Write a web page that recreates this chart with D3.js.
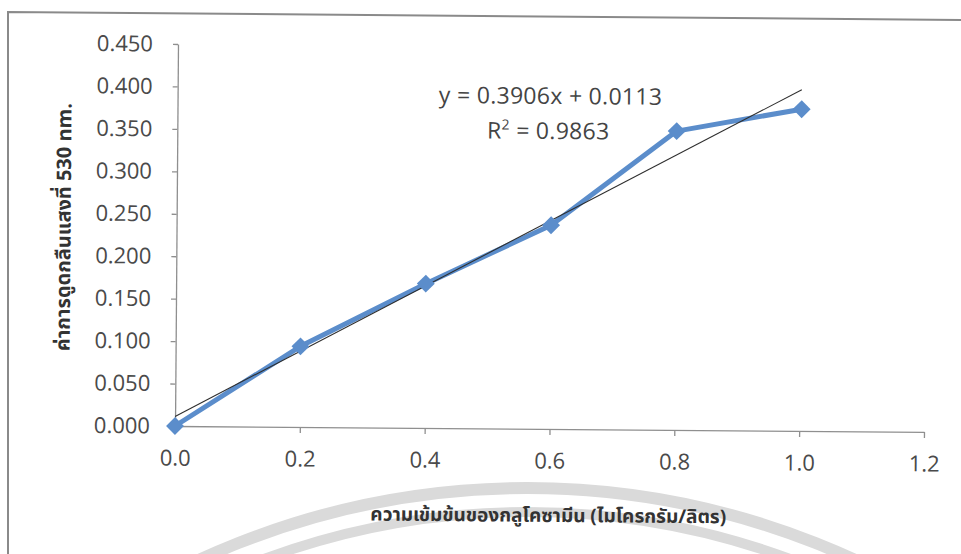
<!DOCTYPE html>
<html>
<head>
<meta charset="utf-8">
<script src="https://cdn.jsdelivr.net/npm/d3@7/dist/d3.min.js"></script>
<style>
  html, body { margin: 0; padding: 0; background: #fff; }
  svg { display: block; }
</style>
</head>
<body>
<svg id="chart" width="961" height="554"></svg>
<script>
// Glucosamine standard curve: absorbance at 530 nm vs concentration
const concentrations = [0.0, 0.2, 0.4, 0.6, 0.8, 1.0];
const absorbances = [0.000, 0.095, 0.170, 0.240, 0.352, 0.379];
const xTicks = [0.0, 0.2, 0.4, 0.6, 0.8, 1.0, 1.2];
const yTicks = [0.000, 0.050, 0.100, 0.150, 0.200, 0.250, 0.300, 0.350, 0.400, 0.450];
const trendSlope = 0.3906;
const trendIntercept = 0.0113;
const trendLabel = "y = 0.3906x + 0.0113";
const r2Value = "0.9863";
const xTitle = "ความเข้มข้นของกลูโคซามีน (ไมโครกรัม/ลิตร)";
const yTitle = "ค่าการดูดกลืนแสงที่ 530 nm.";

const svg = d3.select("#chart");

// faint circular stamp arcs near the bottom of the page
const stamp = svg.append("g").attr("fill", "none").attr("stroke", "#dadada");
stamp.append("circle").attr("cx", 527).attr("cy", 1272).attr("r", 784).attr("stroke-width", 12);
stamp.append("circle").attr("cx", 527).attr("cy", 1272).attr("r", 760).attr("stroke-width", 10);

// chart frame
svg.append("path")
  .attr("d", "M8,554 L8,12 L961,20")
  .attr("fill", "none")
  .attr("stroke", "#8a8a8a")
  .attr("stroke-width", 2);

const x0 = 175, y0 = 426;
const g = svg.append("g").attr("transform", `rotate(0.45, ${x0}, ${y0})`);

const x = d3.scaleLinear().domain([0, 1.2]).range([x0, 924]);
const y = d3.scaleLinear().domain([0, 0.45]).range([y0, 44]);

const tickFont = "'Open Sans', 'Liberation Sans', sans-serif";
const thaiFont = "'Noto Sans Thai', 'Noto Sans', 'DejaVu Sans', sans-serif";

// y axis
const yAxis = g.append("g")
  .attr("transform", `translate(${x0},0)`)
  .call(d3.axisLeft(y).tickValues(yTicks).tickFormat(d3.format(".3f")).tickSize(5).tickPadding(20).tickSizeOuter(0));
yAxis.select(".domain").attr("stroke", "#8f8f8f").attr("stroke-width", 1.3);
yAxis.selectAll(".tick line").attr("stroke", "#8f8f8f").attr("stroke-width", 1.3);
yAxis.selectAll(".tick text")
  .attr("fill", "#4a4a4a")
  .style("font-family", tickFont)
  .style("font-size", "22px");

// x axis
const xAxis = g.append("g")
  .attr("transform", `translate(0,${y0})`)
  .call(d3.axisBottom(x).tickValues(xTicks).tickFormat(d3.format(".1f")).tickSize(6).tickPadding(18).tickSizeOuter(0));
xAxis.select(".domain").attr("stroke", "#8f8f8f").attr("stroke-width", 1.3);
xAxis.selectAll(".tick line").attr("stroke", "#8f8f8f").attr("stroke-width", 1.3);
xAxis.selectAll(".tick text")
  .attr("fill", "#4a4a4a")
  .style("font-family", tickFont)
  .style("font-size", "22px");

// data series
const pts = concentrations.map((c, i) => ({ c, a: absorbances[i] }));
g.append("path")
  .datum(pts)
  .attr("fill", "none")
  .attr("stroke", "#5b8dcb")
  .attr("stroke-width", 5)
  .attr("stroke-linejoin", "round")
  .attr("d", d3.line().x(d => x(d.c)).y(d => y(d.a)));

// linear trendline
const trendX = [0, 1.0];
g.append("path")
  .datum(trendX)
  .attr("fill", "none")
  .attr("stroke", "#2e2e2e")
  .attr("stroke-width", 1.1)
  .attr("d", d3.line().x(d => x(d)).y(d => y(trendSlope * d + trendIntercept)));

// diamond markers
g.selectAll(".marker")
  .data(pts)
  .join("path")
  .attr("class", "marker")
  .attr("fill", "#5b8dcb")
  .attr("transform", d => `translate(${x(d.c)},${y(d.a)}) rotate(45)`)
  .attr("d", d3.symbol(d3.symbolSquare, 160)());

// equation label
g.append("text")
  .attr("x", 548).attr("y", 101)
  .attr("text-anchor", "middle")
  .attr("fill", "#444")
  .style("font-family", tickFont)
  .style("font-size", "23px")
  .style("letter-spacing", "0.3px")
  .text(trendLabel);
const r2 = g.append("text")
  .attr("x", 546).attr("y", 136)
  .attr("text-anchor", "middle")
  .attr("fill", "#444")
  .style("font-family", tickFont)
  .style("font-size", "23px")
  .style("letter-spacing", "0.3px");
r2.append("tspan").text("R");
r2.append("tspan").attr("dy", -9).style("font-size", "14px").text("2");
r2.append("tspan").attr("dy", 9).text(" = " + r2Value);

// axis titles
g.append("text")
  .attr("transform", "translate(69,228) rotate(-90)")
  .attr("text-anchor", "middle")
  .attr("fill", "#333")
  .style("font-family", thaiFont)
  .style("font-weight", "bold")
  .style("font-size", "20px")
  .text(yTitle);

g.append("text")
  .attr("x", 549).attr("y", 519)
  .attr("text-anchor", "middle")
  .attr("fill", "#333")
  .style("font-family", thaiFont)
  .style("font-weight", "bold")
  .style("font-size", "19px")
  .text(xTitle);
</script>
</body>
</html>
